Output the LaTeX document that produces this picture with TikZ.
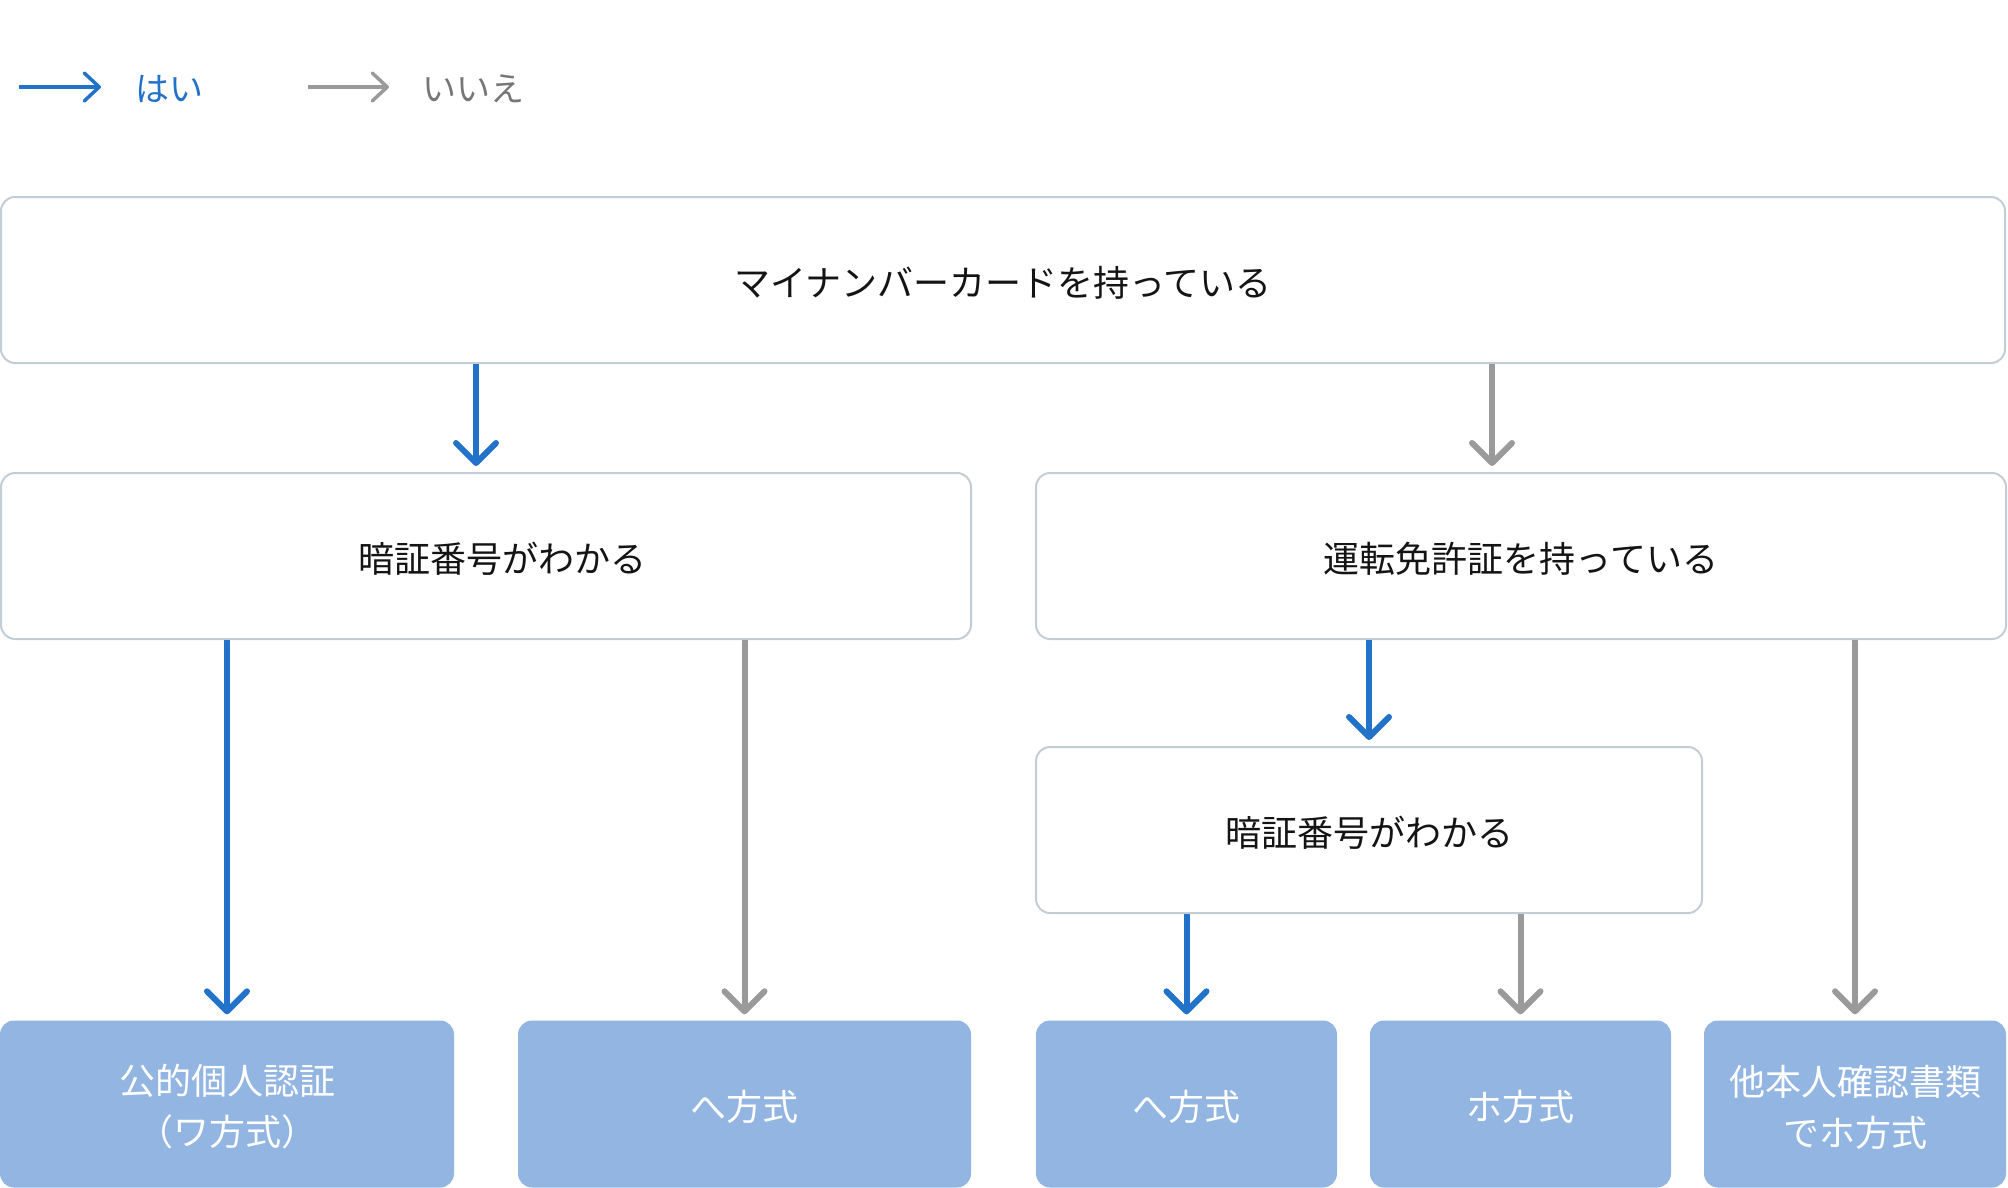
\documentclass[tikz,border=0pt]{standalone}
\usepackage{fontspec}
\newfontfamily\jp{Noto Sans CJK JP}
\usetikzlibrary{arrows.meta}
\definecolor{yesblue}{HTML}{2372C9}
\definecolor{nogray}{HTML}{9A9A9A}
\definecolor{notext}{HTML}{767676}
\definecolor{boxline}{HTML}{C4CCD5}
\definecolor{endfill}{HTML}{92B5E1}
\definecolor{ink}{HTML}{141414}
\begin{document}
\begin{tikzpicture}[x=1pt,y=-1pt,
  qbox/.style={draw=boxline,line width=2pt,rounded corners=14pt,fill=white,inner sep=0pt},
  qtext/.style={inner sep=0pt,text=ink,yshift=-3pt,font=\jp\fontsize{36}{51}\selectfont},
  endbox/.style={fill=endfill,rounded corners=14pt,inner sep=0pt},
  etext/.style={inner sep=0pt,text=white,align=center,yshift=-3pt,font=\jp\fontsize{36}{51}\selectfont},
  conn/.style={line width=6pt,shorten >=6pt,-{Straight Barb[length=20pt,width=40pt,round]}},
  yes/.style={conn,draw=yesblue},
  no/.style={conn,draw=nogray},
  legarrow/.style={line width=3.5pt,-{Straight Barb[length=15pt,width=28pt,round]}},
  legtext/.style={anchor=west,inner sep=0pt,font=\jp\fontsize{34}{40}\selectfont}]
\useasboundingbox (0,0) rectangle (2008,1188);

% legend
\coordinate (ly1) at (19,87);
\coordinate (ly2) at (101,87);
\coordinate (ln1) at (308,87);
\coordinate (ln2) at (389,87);
\draw[legarrow,yesblue] (ly1) -- (ly2);
\draw[legarrow,nogray] (ln1) -- (ln2);
\node[legtext,text=yesblue] (lyt) at (135,89) {はい};
\node[legtext,text=notext] (lnt) at (422,89) {いいえ};

% question boxes
\node[qbox,minimum width=2004pt,minimum height=166pt,
  label={[qtext]center:マイナンバーカードを持っている}] (top) at (1003,280) {};
\node[qbox,minimum width=970pt,minimum height=166pt,
  label={[qtext,xshift=16pt]center:暗証番号がわかる}] (l2l) at (486,556) {};
\node[qbox,minimum width=970pt,minimum height=166pt,
  label={[qtext]center:運転免許証を持っている}] (l2r) at (1521,556) {};
\node[qbox,minimum width=666pt,minimum height=166pt,
  label={[qtext]center:暗証番号がわかる}] (l3) at (1369,830) {};

% end boxes
\node[endbox,minimum width=454pt,minimum height=167pt,
  label={[etext]center:公的個人認証\\（ワ方式）}] (b1) at (227,1104) {};
\node[endbox,minimum width=453pt,minimum height=167pt,
  label={[etext]center:へ方式}] (b2) at (744.5,1104) {};
\node[endbox,minimum width=301pt,minimum height=167pt,
  label={[etext]center:へ方式}] (b3) at (1186.5,1104) {};
\node[endbox,minimum width=301pt,minimum height=167pt,
  label={[etext]center:ホ方式}] (b4) at (1520.5,1104) {};
\node[endbox,minimum width=302pt,minimum height=167pt,
  label={[etext]center:他本人確認書類\\でホ方式}] (b5) at (1855,1104) {};

% connectors
\coordinate (xa) at (476,0);
\coordinate (xb) at (1492,0);
\draw[yes] (top.south -| xa) -- (l2l.north -| xa);
\draw[no] (top.south -| xb) -- (l2r.north -| xb);
\draw[yes] (l2l.south -| b1.north) -- (b1.north);
\draw[no] (l2l.south -| b2.north) -- (b2.north);
\draw[yes] (l2r.south -| l3.north) -- (l3.north);
\draw[no] (l2r.south -| b5.north) -- (b5.north);
\draw[yes] (l3.south -| b3.north) -- (b3.north);
\draw[no] (l3.south -| b4.north) -- (b4.north);
\end{tikzpicture}
\end{document}
